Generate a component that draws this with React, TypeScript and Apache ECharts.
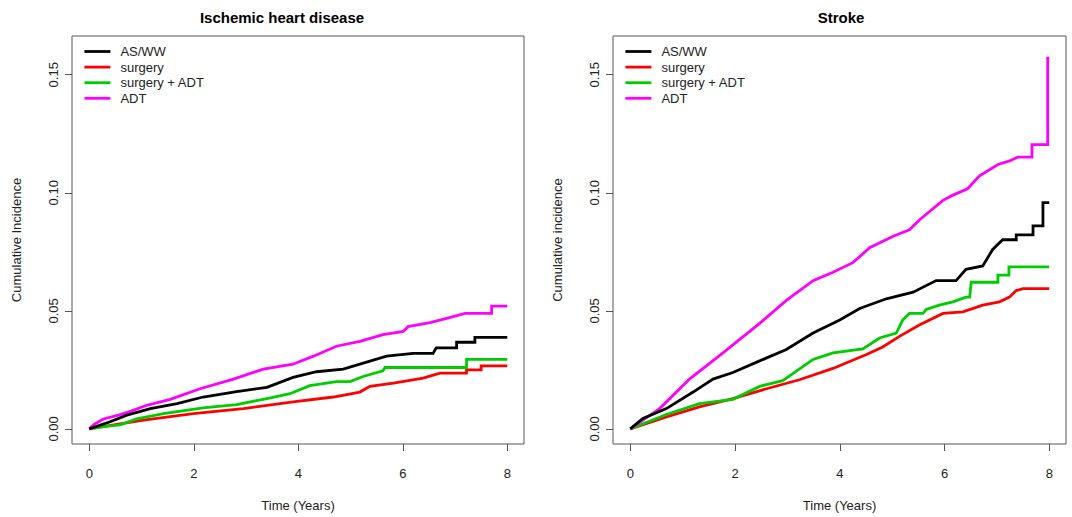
import React, { useEffect, useRef } from "react";
import * as echarts from "echarts";

const seriesNames = ["AS/WW", "surgery", "surgery + ADT", "ADT"];
const seriesColors = ["#000000", "#FF0000", "#00CD00", "#FF00FF"];
const panelTitles = ["Ischemic heart disease", "Stroke"];
const yAxisNames = ["Cumulative Incidence", "Cumulative incidence"];
const xTicks = [0, 2, 4, 6, 8];
const yTicks = [0, 0.05, 0.1, 0.15];

// Ischemic heart disease: [time (years), cumulative incidence]
const ihdAsww = [[0,0],[0.2,0.0015],[0.4,0.003],[0.72,0.0058],[1.17,0.0086],[1.68,0.0107],[2.18,0.0135],[2.82,0.0158],[3.4,0.0176],[3.9,0.0218],[4.35,0.0242],[4.86,0.0253],[5.18,0.0274],[5.69,0.0308],[6.2,0.032],[6.58,0.032],[6.64,0.0343],[7.03,0.0343],[7.03,0.0367],[7.38,0.0367],[7.38,0.0388],[8.0,0.0388]];
const ihdSurgery = [[0,0],[0.5,0.0018],[1.04,0.0037],[1.99,0.0065],[2.95,0.0086],[3.9,0.0114],[4.67,0.0135],[5.18,0.0156],[5.37,0.018],[5.82,0.0194],[6.39,0.0215],[6.71,0.0236],[7.22,0.0236],[7.22,0.025],[7.5,0.025],[7.5,0.0267],[8.0,0.0267]];
const ihdSurgeryAdt = [[0,0],[0.27,0.001],[0.59,0.0017],[0.91,0.0042],[1.42,0.0065],[2.18,0.0089],[2.82,0.0103],[3.4,0.0128],[3.84,0.0149],[4.22,0.0183],[4.73,0.02],[4.99,0.02],[5.24,0.0222],[5.62,0.0246],[5.66,0.026],[7.22,0.026],[7.22,0.0294],[8.0,0.0294]];
const ihdAdt = [[0,0],[0.1,0.002],[0.27,0.0042],[0.56,0.0058],[0.8,0.0075],[1.1,0.01],[1.55,0.0125],[2.12,0.017],[2.76,0.0211],[3.33,0.0253],[3.9,0.0274],[4.29,0.0308],[4.73,0.035],[5.18,0.0371],[5.62,0.0399],[6.01,0.0413],[6.1,0.0433],[6.52,0.045],[6.84,0.0468],[7.19,0.0489],[7.7,0.0489],[7.7,0.052],[8.0,0.052]];

// Stroke
const strokeAsww = [[0,0],[0.24,0.0044],[0.69,0.0086],[1.2,0.0156],[1.58,0.0211],[1.96,0.0239],[2.47,0.0288],[2.98,0.0336],[3.49,0.0406],[4.0,0.0461],[4.38,0.051],[4.89,0.0551],[5.4,0.0579],[5.84,0.0628],[6.22,0.0628],[6.41,0.0676],[6.73,0.069],[6.92,0.076],[7.11,0.0801],[7.37,0.0801],[7.37,0.0822],[7.69,0.0822],[7.69,0.086],[7.88,0.086],[7.88,0.0958],[8.0,0.0958]];
const strokeSurgery = [[0,0],[0.69,0.0051],[1.32,0.0093],[1.96,0.0128],[2.6,0.017],[3.23,0.0208],[3.87,0.0256],[4.51,0.0315],[4.82,0.0347],[5.14,0.0392],[5.52,0.044],[5.97,0.0489],[6.35,0.0496],[6.73,0.0524],[7.05,0.0538],[7.24,0.0558],[7.37,0.0586],[7.5,0.0594],[8.0,0.0594]];
const strokeSurgeryAdt = [[0,0],[0.69,0.0061],[1.32,0.0107],[1.96,0.0125],[2.47,0.018],[2.91,0.0204],[3.49,0.0294],[3.87,0.0322],[4.44,0.0339],[4.76,0.0385],[5.08,0.0406],[5.2,0.0461],[5.33,0.0489],[5.59,0.0489],[5.65,0.0506],[5.9,0.0524],[6.16,0.0538],[6.41,0.0558],[6.48,0.0558],[6.51,0.0621],[7.02,0.0621],[7.02,0.0651],[7.23,0.0651],[7.23,0.0686],[8.0,0.0686]];
const strokeAdt = [[0,0],[0.56,0.0086],[1.13,0.0211],[1.77,0.0322],[2.47,0.0447],[2.98,0.0544],[3.49,0.0628],[3.87,0.0663],[4.25,0.0704],[4.57,0.0767],[5.01,0.0815],[5.33,0.0843],[5.52,0.0885],[5.97,0.0968],[6.16,0.099],[6.44,0.1017],[6.67,0.1072],[7.02,0.112],[7.24,0.1135],[7.4,0.1151],[7.67,0.1151],[7.67,0.1204],[7.97,0.1204],[7.97,0.157],[8.0,0.157]];

const panels = [
  [ihdAsww, ihdSurgery, ihdSurgeryAdt, ihdAdt],
  [strokeAsww, strokeSurgery, strokeSurgeryAdt, strokeAdt],
];

const FONT = "'Liberation Sans', Arial, Helvetica, sans-serif";
const AXIS_COLOR = "#555555";
const TEXT_COLOR = "#222222";

export default function App() {
  const ref = useRef<HTMLDivElement>(null);

  useEffect(() => {
    if (!ref.current) return;
    const chart = echarts.init(ref.current, null, { renderer: "svg" });

    const grids = [
      { left: 72, top: 36, width: 452, height: 413 },
      { left: 613, top: 36, width: 453, height: 413 },
    ];
    const titleCenters = [282, 841];

    const option: any = {
      animation: false,
      backgroundColor: "#ffffff",
      textStyle: { fontFamily: FONT },
      title: panelTitles.map((t, i) => ({
        text: t,
        left: titleCenters[i],
        top: 10,
        padding: 0,
        textAlign: "center",
        textStyle: { fontFamily: FONT, fontSize: 15, fontWeight: "bold", color: "#000" },
      })),
      legend: grids.map((g) => ({
        show: true,
        data: seriesNames,
        orient: "vertical",
        left: g.left + 11,
        top: 45,
        padding: 0,
        itemWidth: 26,
        itemHeight: 14,
        itemGap: 2.6,
        selectedMode: false,
        itemStyle: { opacity: 0, borderWidth: 0 },
        lineStyle: { width: 2.8 },
        textStyle: { fontFamily: FONT, fontSize: 13, color: TEXT_COLOR, padding: [0, 0, 0, 5] },
      })),
      grid: grids.map((g) => ({
        ...g,
        show: true,
        borderColor: AXIS_COLOR,
        borderWidth: 1,
        backgroundColor: "transparent",
        containLabel: false,
      })),
      xAxis: grids.map((g, i) => ({
        type: "value",
        gridIndex: i,
        min: -0.33,
        max: 8.32,
        name: "Time (Years)",
        nameLocation: "middle",
        nameGap: 55,
        nameTextStyle: { fontFamily: FONT, fontSize: 13, color: TEXT_COLOR },
        axisLine: { show: false, onZero: false },
        axisTick: { show: true, length: 7, customValues: xTicks, lineStyle: { color: AXIS_COLOR } },
        axisLabel: {
          show: true,
          customValues: xTicks,
          margin: 23,
          fontFamily: FONT,
          fontSize: 13,
          color: TEXT_COLOR,
          formatter: (v: number) => String(v),
        },
        splitLine: { show: false },
      })),
      yAxis: grids.map((g, i) => ({
        type: "value",
        gridIndex: i,
        min: -0.0064,
        max: 0.1664,
        name: yAxisNames[i],
        nameLocation: "middle",
        nameRotate: 90,
        nameGap: 49,
        nameTextStyle: { fontFamily: FONT, fontSize: 13, color: TEXT_COLOR },
        axisLine: { show: false, onZero: false },
        axisTick: { show: true, length: 7, customValues: yTicks, lineStyle: { color: AXIS_COLOR } },
        axisLabel: {
          show: true,
          customValues: yTicks,
          rotate: 90,
          margin: 12,
          fontFamily: FONT,
          fontSize: 13,
          color: TEXT_COLOR,
          formatter: (v: number) => v.toFixed(2),
        },
        splitLine: { show: false },
      })),
      series: panels.flatMap((panel, p) =>
        panel.map((data, k) => ({
          type: "line",
          name: seriesNames[k],
          xAxisIndex: p,
          yAxisIndex: p,
          data,
          symbol: "none",
          showSymbol: false,
          smooth: false,
          color: seriesColors[k],
          lineStyle: { color: seriesColors[k], width: 2.8, join: "miter" },
          z: 2 + (k === 0 ? 1 : 0),
        }))
      ),
    };

    chart.setOption(option);
    return () => chart.dispose();
  }, []);

  return (
    <div
      ref={ref}
      style={{ position: "fixed", left: 0, top: 0, width: 1072, height: 517, background: "#fff" }}
    />
  );
}
